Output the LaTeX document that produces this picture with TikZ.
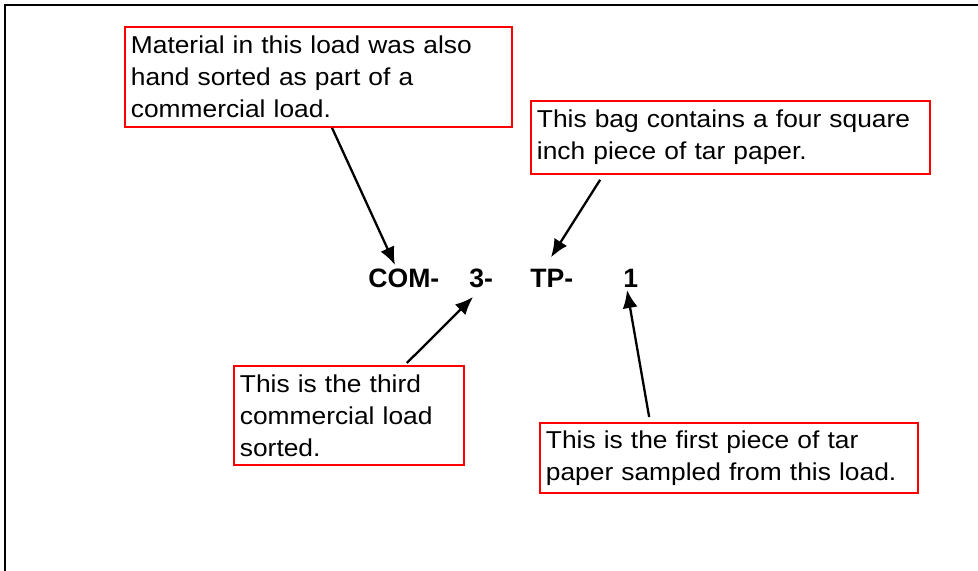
\documentclass[tikz,border=0pt]{standalone}
\usepackage{fontspec}
\usepackage{tikz}
\usetikzlibrary{arrows.meta,positioning,calc}
\setmainfont{Liberation Sans}
\newfontfamily\notefont[FakeStretch=1.08]{Liberation Sans}
\definecolor{notered}{HTML}{FF0000}
\definecolor{ink}{HTML}{000000}

\begin{document}
\begin{tikzpicture}[
  x=0.5pt, y=-0.5pt,
  note/.style={draw=notered, line width=0.9pt, anchor=north west,
    align=left, inner xsep=3pt, inner ysep=0pt,
    font={\notefont\fontsize{12.2pt}{16pt}\selectfont}},
  part/.style={anchor=base west, inner sep=0pt,
    font={\fontsize{13.3pt}{15pt}\selectfont\bfseries}},
  arrow/.style={-{Latex[length=9pt,width=7.5pt]}, line width=1.15pt, draw=ink},
  frame/.style={draw=ink, line width=1.3pt}
]
\useasboundingbox (0,0) rectangle (978,571);
\draw[frame] (5,571) -- (5,5) -- (978,5);

% sample code
\node[part] (com) at (368,288) {COM-};
\node[part] (load) at (469,288) {3-};
\node[part] (tp) at (530,288) {TP-};
\node[part] (piece) at (623,288) {1};

% notes
\node[note, minimum width=193.5pt, minimum height=50pt, text width=187.5pt]
  (matbox) at (124,26) {Material in this load was also\\hand sorted as part of a\\commercial load.};
\node[note, minimum width=199.5pt, minimum height=36.5pt, text width=193.5pt]
  (bagbox) at (530,100) {This bag contains a four square\\inch piece of tar paper.};
\node[note, minimum width=115pt, minimum height=49.5pt, text width=109pt]
  (thirdbox) at (233,365) {This is the third\\commercial load\\sorted.};
\node[note, minimum width=189pt, minimum height=35pt, text width=183pt]
  (firstbox) at (539,422) {This is the first piece of tar\\paper sampled from this load.};

\draw[arrow] ($(matbox.south west)!0.535!(matbox.south east)$)
  -- ($(com.north west)+(27,-4)$);
\draw[arrow] ($(bagbox.south west)!0.175!(bagbox.south east)+(0,5)$)
  -- ($(tp.north west)+(21,-12)$);
\draw[arrow] ($(thirdbox.north west)!0.75!(thirdbox.north east)+(0,-2)$)
  -- ($(load.base west)+(4,9)$);
\draw[arrow] ($(firstbox.north west)!0.29!(firstbox.north east)+(0,-5)$)
  -- ($(piece.base west)+(4,2)$);
\end{tikzpicture}
\end{document}
